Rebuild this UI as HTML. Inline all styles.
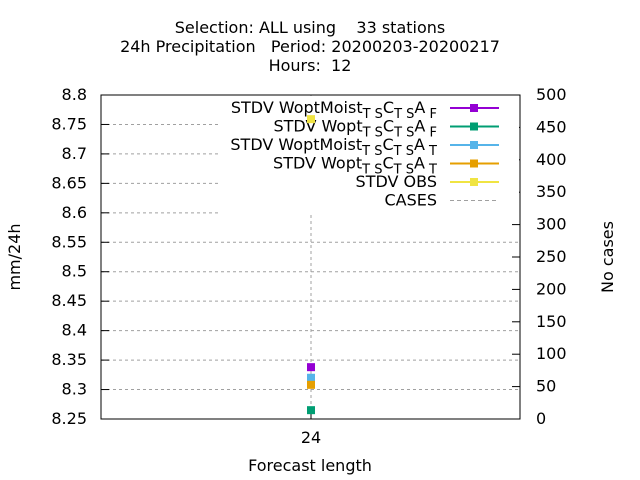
<!DOCTYPE html>
<html><head><meta charset="utf-8"><style>body{margin:0;background:#fff}svg{display:block;font-family:"DejaVu Sans",sans-serif}</style></head>
<body>
<svg id="c" width="640" height="480" xmlns="http://www.w3.org/2000/svg">
<g font-size="16" text-anchor="middle" fill="#000">
<text x="310" y="33" xml:space="preserve">Selection: ALL using    33 stations</text>
<text x="310" y="52" xml:space="preserve">24h Precipitation   Period: 20200203-20200217</text>
<text x="310" y="71" xml:space="preserve">Hours:  12</text>
</g>
<g id="grid"></g><g id="axes"></g>
<g id="legend"></g>
<g id="pts"></g>
<text x="20" y="257" font-size="16" text-anchor="middle" transform="rotate(-90 20 257)">mm/24h</text>
<text x="613" y="257" font-size="16" text-anchor="middle" transform="rotate(-90 613 257)">No cases</text>
<text x="310" y="471" font-size="16" text-anchor="middle">Forecast length</text>
</svg>
<script>
const categories=[24];
const seriesNames=["STDV WoptMoist","STDV Wopt","STDV WoptMoist","STDV Wopt","STDV OBS"];
const seriesValues=[[8.338],[8.265],[8.320],[8.308],[8.759]];
const seriesColors=["#9400d3","#009e73","#56b4e9","#e69f00","#f0e442"];
const yTicks=[8.25,8.3,8.35,8.4,8.45,8.5,8.55,8.6,8.65,8.7,8.75,8.8];
const y2Ticks=[0,50,100,150,200,250,300,350,400,450,500];
const L=101,R=520,T=95,B=419;
const y=v=>B-(v-8.25)/(8.8-8.25)*(B-T);
const y2=v=>B-v/500*(B-T);
const x=c=>311;
const NS="http://www.w3.org/2000/svg";
function mk(p,t,a){const e=document.createElementNS(NS,t);for(const k in a)e.setAttribute(k,a[k]);p.appendChild(e);return e;}
const G=document.getElementById('grid'),A=document.getElementById('axes'),LG=document.getElementById('legend'),P=document.getElementById('pts');
yTicks.forEach((v,i)=>{
 if(i>0&&i<yTicks.length-1){const g=mk(G,'line',{x1:L,x2:R,y1:y(v),y2:y(v),stroke:'#a0a0a0','stroke-dasharray':'3,3'});
 
 }
 mk(A,'line',{x1:L,x2:L+8,y1:y(v),y2:y(v),stroke:'#000'});
 const t=mk(A,'text',{x:L-14,y:y(v)+5,'font-size':16,'text-anchor':'end'});t.textContent=v.toString();
 
 
});
y2Ticks.forEach(v=>{
 mk(A,'line',{x1:R-8,x2:R,y1:y2(v),y2:y2(v),stroke:'#000'});
 const t=mk(A,'text',{x:R+16,y:y2(v)+5,'font-size':16});t.textContent=v;
 
 
});
categories.forEach(c=>{
 const g=mk(G,'line',{x1:x(c),x2:x(c),y1:T,y2:B,stroke:'#a0a0a0','stroke-dasharray':'3,3'});
 
 
 mk(A,'line',{x1:x(c),x2:x(c),y1:B-8,y2:B,stroke:'#000'});
 const t=mk(A,'text',{x:x(c),y:B+24,'font-size':16,'text-anchor':'middle'});t.textContent=c;
 
 
});
mk(A,'rect',{x:L,y:T,width:R-L,height:B-T,fill:'none',stroke:'#000'});
mk(LG,'rect',{x:221,y:96,width:298,height:118,fill:'#fff'});
const subs=["F","F","T","T"];
for(let i=0;i<6;i++){
 const ly=108+i*18.5;
 const t=mk(LG,'text',{x:437,y:ly+5,'font-size':16,'text-anchor':'end'});
 
 
 if(i<4){
  t.innerHTML=seriesNames[i]+'<tspan font-size="13" dy="5" xml:space="preserve">T S</tspan><tspan dy="-5">C</tspan><tspan font-size="13" dy="5" xml:space="preserve">T S</tspan><tspan dy="-5">A</tspan><tspan font-size="13" dy="5" xml:space="preserve"> '+subs[i]+'</tspan>';
 } else t.textContent=i==4?"STDV OBS":"CASES";
 if(i<5){
  mk(LG,'line',{x1:450,x2:499,y1:ly,y2:ly,stroke:seriesColors[i],'stroke-width':2});
  mk(LG,'rect',{x:470,y:ly-4,width:8,height:8,fill:seriesColors[i]});
 } else mk(LG,'line',{x1:450,x2:499,y1:ly,y2:ly,stroke:'#a0a0a0','stroke-dasharray':'4,3'});
}
seriesValues.forEach((s,i)=>s.forEach((v,j)=>{
 const r=mk(P,'rect',{x:x(categories[j])-4,y:y(v)-4,width:8,height:8,fill:seriesColors[i]});
 
 
}));
</script>
</body></html>
